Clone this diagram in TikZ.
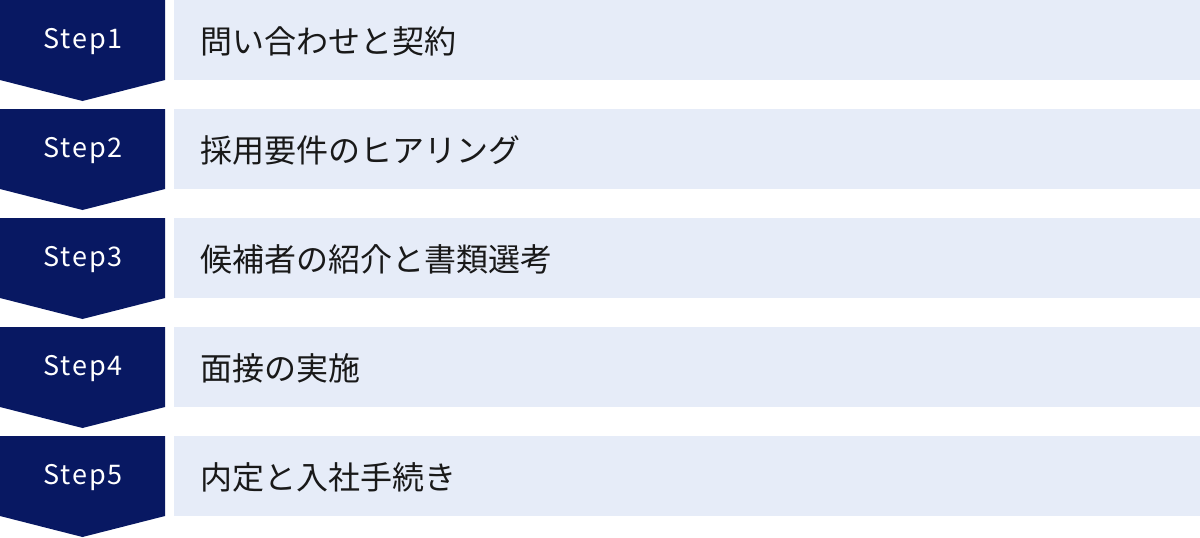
\documentclass[tikz,border=0pt]{standalone}
\usepackage{fontspec}
\setmainfont{Noto Sans CJK JP}
\newfontfamily\stepfont[LetterSpace=7]{Noto Sans CJK JP}
\usetikzlibrary{positioning, calc}
\definecolor{stepnavy}{RGB}{8,24,98}
\definecolor{rowblue}{RGB}{230,236,248}
\tikzset{
  steplabel/.style={text=white, font=\stepfont\fontsize{27}{32}\selectfont, inner sep=0pt},
  rowlabel/.style={text=black!90, font=\fontsize{32}{36}\selectfont, anchor=west, inner sep=0pt}
}

\begin{document}
\begin{tikzpicture}[x=1pt,y=-1pt]
\useasboundingbox (0,0) rectangle (1200,538);
% one row per step: badge with arrow point, then the light text band
\foreach \i/\txt in {1/問い合わせと契約, 2/採用要件のヒアリング, 3/候補者の紹介と書類選考, 4/面接の実施, 5/内定と入社手続き}{
  \pgfmathsetmacro\top{(\i-1)*109}
  % badge
  \fill[stepnavy] (0,\top) -- (165,\top) -- (165,\top+80) -- (82.5,\top+101) -- (0,\top+80) -- cycle;
  \node[steplabel] (step\i) at (83,\top+42) {Step\i};
  % band
  \fill[rowblue] (174,\top) rectangle (1200,\top+80);
  \node[rowlabel] (row\i) at (200,\top+41) {\txt};
}
\end{tikzpicture}
\end{document}
